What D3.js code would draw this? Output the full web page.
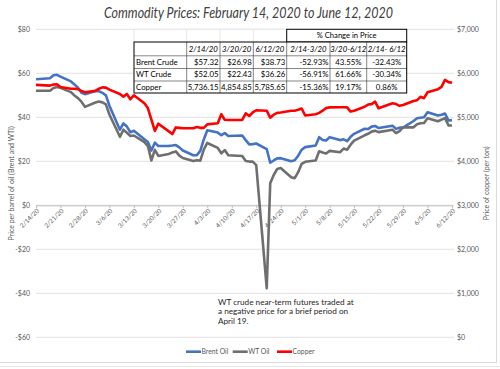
<!DOCTYPE html>
<html><head><meta charset="utf-8">
<script src="https://cdn.jsdelivr.net/npm/d3@7"></script>
<style>body{margin:0;background:#fff}svg{display:block}text{font-family:Lato,"Open Sans",sans-serif}</style>
</head><body><svg id="c" width="500" height="369"></svg>
<script>
const dates = [
 "2020-02-14","2020-02-18","2020-02-19","2020-02-20","2020-02-21","2020-02-24","2020-02-25","2020-02-26","2020-02-27","2020-02-28",
 "2020-03-02","2020-03-03","2020-03-04","2020-03-05","2020-03-06","2020-03-09","2020-03-10","2020-03-11","2020-03-12","2020-03-13","2020-03-16","2020-03-17","2020-03-18","2020-03-19","2020-03-20","2020-03-23","2020-03-24","2020-03-25","2020-03-26","2020-03-27","2020-03-30","2020-03-31",
 "2020-04-01","2020-04-02","2020-04-03","2020-04-06","2020-04-07","2020-04-08","2020-04-09","2020-04-13","2020-04-14","2020-04-15","2020-04-16","2020-04-17","2020-04-20","2020-04-21","2020-04-22","2020-04-23","2020-04-24","2020-04-27","2020-04-28","2020-04-29","2020-04-30",
 "2020-05-01","2020-05-04","2020-05-05","2020-05-06","2020-05-07","2020-05-08","2020-05-11","2020-05-12","2020-05-13","2020-05-14","2020-05-15","2020-05-18","2020-05-19","2020-05-20","2020-05-21","2020-05-22","2020-05-26","2020-05-27","2020-05-28","2020-05-29",
 "2020-06-01","2020-06-02","2020-06-03","2020-06-04","2020-06-05","2020-06-08","2020-06-09","2020-06-10","2020-06-11","2020-06-12"];
const brent = [
 57.32,57.75,59.12,59.31,58.50,56.30,54.95,53.43,51.17,50.52,
 51.90,51.86,51.13,49.99,45.27,34.36,37.22,35.79,33.22,33.85,30.05,28.73,24.88,28.47,26.98,27.03,27.15,27.39,26.34,24.93,22.76,22.74,
 24.74,29.94,34.11,33.05,31.87,32.84,31.48,31.74,29.60,27.69,27.82,28.08,25.57,19.33,20.37,21.33,21.44,19.99,20.46,22.54,25.27,
 26.44,27.20,30.97,29.72,29.46,30.97,29.63,29.98,29.19,31.13,32.50,34.81,34.65,35.75,36.06,35.13,36.17,34.74,35.29,35.33,
 38.32,39.57,39.79,39.99,42.30,40.80,41.18,41.73,38.55,38.73];
const wti = [
 52.05,52.05,53.29,53.78,53.38,51.43,49.90,48.73,47.09,44.76,
 46.75,47.18,46.78,45.90,41.28,31.13,34.36,32.98,31.50,31.73,28.70,26.95,20.37,25.22,22.43,23.36,24.01,24.49,22.60,21.51,20.09,20.48,
 20.31,25.32,28.34,26.08,23.63,25.09,22.76,22.41,20.11,19.87,19.87,18.27,-37.63,10.01,13.78,16.50,16.94,12.78,12.34,15.06,18.84,
 19.78,20.39,24.56,23.99,23.55,24.74,24.14,25.78,25.29,27.56,29.43,31.82,32.50,33.49,33.92,33.25,34.35,32.81,33.71,35.49,
 35.44,36.81,37.29,37.41,39.55,38.19,38.94,39.60,36.34,36.26];
const copper = [
 5736.15,5720,5745,5750,5690,5650,5650,5640,5600,5570,
 5600,5650,5680,5675,5630,5530,5470,5530,5410,5500,5320,5210,4950,4690,4854.85,4680,4620,4770,4760,4750,4750,4780,
 4760,4760,4840,4865,5070,4945,4940,4940,5090,5030,5110,5160,5150,4990,5060,5100,5110,5150,5150,5170,5200,
 5040,5070,5100,5150,5210,5225,5227,5227,5225,5130,5150,5240,5290,5300,5355,5205,5320,5300,5260,5280,
 5370,5390,5465,5435,5570,5640,5690,5850,5800,5785.65];
const xTickLabels = ["2/14/20","2/21/20","2/28/20","3/6/20","3/13/20","3/20/20","3/27/20","4/3/20","4/10/20","4/17/20","4/24/20","5/1/20","5/8/20","5/15/20","5/22/20","5/29/20","6/5/20","6/12/20"];
const leftTicks = [80,60,40,20,0,-20,-40,-60];
const rightTicks = [7000,6000,5000,4000,3000,2000,1000,0];
const seriesNames = ["Brent Oil","WT Oil","Copper"];
const seriesColors = ["#4472C4","#6f6f6f","#FF0000"];
const tableHeader = "% Change in Price";
const tableCols = ["2/14/20","3/20/20","6/12/20","2/14-3/20","3/20-6/12","2/14- 6/12"];
const tableRows = ["Brent Crude","WT Crude","Copper"];
const tableCells = [
 ["$57.32","$26.98","$38.73","-52.93%","43.55%","-32.43%"],
 ["$52.05","$22.43","$36.26","-56.91%","61.66%","-30.34%"],
 ["5,736.15","4,854.85","5,785.65","-15.36%","19.17%","0.86%"]];
const titleText = "Commodity Prices: February 14, 2020 to June 12, 2020";
const leftTitle = "Price per barrel of oil (Brent and WTI)";
const rightTitle = "Price of copper (per ton)";
const noteLines = ["WT crude near-term futures traded at","a negative price for a brief period on","April 19."];

const parse = d3.timeParse("%Y-%m-%d");
const tickParse = d3.timeParse("%m/%d/%y");
const svg = d3.select("#c");
const L = 36, R = 452, T = 29.3, B = 337.3;
const x = d3.scaleTime().domain([parse(dates[0]), parse(dates[dates.length-1])]).range([L, R]);
const yL = d3.scaleLinear().domain([-60, 80]).range([B, T]);
const yR = d3.scaleLinear().domain([0, 7000]).range([B, T]);

// frame
svg.append("line").attr("x1",0).attr("x2",497).attr("y1",362.5).attr("y2",362.5).attr("stroke","#d9d9d9");
svg.append("line").attr("x1",496.5).attr("x2",496.5).attr("y1",0).attr("y2",362.5).attr("stroke","#d9d9d9");
svg.append("line").attr("x1",0).attr("x2",500).attr("y1",366.5).attr("y2",366.5).attr("stroke","#e6e6e6");

// gridlines
svg.append("g").selectAll("line").data(leftTicks).join("line")
  .attr("x1", L).attr("x2", 454).attr("y1", d => yL(d)).attr("y2", d => yL(d))
  .attr("stroke", "#d9d9d9").attr("stroke-width", 0.8);

// left axis labels
svg.append("g").selectAll("text").data(leftTicks).join("text")
  .attr("x", 30).attr("y", d => yL(d)).attr("dy","0.35em").attr("text-anchor","end")
  .attr("font-size", 7).attr("fill", "#595959")
  .text(d => (d < 0 ? "-$" : "$") + Math.abs(d));
// right axis labels
svg.append("g").selectAll("text").data(rightTicks).join("text")
  .attr("x", 457).attr("y", d => yR(d)).attr("dy","0.35em").attr("text-anchor","start")
  .attr("font-size", 7).attr("fill", "#595959")
  .text(d => "$" + d3.format(",")(d));

// axis titles
svg.append("text").attr("transform", `translate(14,${(T+B)/2}) rotate(-90)`)
  .attr("text-anchor","middle").attr("font-size",7).attr("fill","#595959").text(leftTitle);
svg.append("text").attr("transform", `translate(489,${(T+B)/2}) rotate(-90)`)
  .attr("text-anchor","middle").attr("font-size",7).attr("fill","#595959").text(rightTitle);

// x axis at 0
const xAxis = d3.axisBottom(x).tickValues(xTickLabels.map(tickParse)).tickSize(3).tickFormat((d,i) => xTickLabels[i]);
const gx = svg.append("g").attr("transform", `translate(0,${yL(0)})`).call(xAxis);
gx.select(".domain").attr("stroke","#bfbfbf");
gx.selectAll(".tick line").attr("stroke","#bfbfbf");
gx.selectAll(".tick text").attr("font-size",6.3).attr("fill","#595959").attr("font-family","Lato")
  .attr("text-anchor","end").attr("dy",0).attr("y",0)
  .attr("transform","translate(3,6) rotate(-45)");

// lines
const lineL = d3.line().x((d,i) => x(parse(dates[i]))).y(d => yL(d));
const lineR = d3.line().x((d,i) => x(parse(dates[i]))).y(d => yR(d));
svg.append("path").datum(brent).attr("d", lineL).attr("fill","none").attr("stroke",seriesColors[0]).attr("stroke-width",2.6).attr("stroke-linejoin","round");
svg.append("path").datum(wti).attr("d", lineL).attr("fill","none").attr("stroke",seriesColors[1]).attr("stroke-width",2.6).attr("stroke-linejoin","round");
svg.append("path").datum(copper).attr("d", lineR).attr("fill","none").attr("stroke",seriesColors[2]).attr("stroke-width",2.6).attr("stroke-linejoin","round");

// table
const colX = [134, 186.7, 220, 253.3, 286.7, 330, 366.7, 406.7];
const rowY = [29.3, 42, 55.8, 68.5, 81, 93];
const tg = svg.append("g");
tg.append("rect").attr("x",colX[0]).attr("y",rowY[0]).attr("width",colX[4]-colX[0]).attr("height",rowY[1]-rowY[0]).attr("fill","#fff");
for (let c = 0; c <= 4; c++) tg.append("line").attr("x1",colX[c]).attr("x2",colX[c]).attr("y1",rowY[0]).attr("y2",rowY[1]).attr("stroke","#d9d9d9").attr("stroke-width",0.6);
tg.append("line").attr("x1",colX[0]).attr("x2",colX[4]).attr("y1",rowY[0]).attr("y2",rowY[0]).attr("stroke","#d9d9d9").attr("stroke-width",0.6);
tg.append("rect").attr("x",colX[4]).attr("y",rowY[0]).attr("width",colX[7]-colX[4]).attr("height",rowY[1]-rowY[0]).attr("fill","#fff").attr("stroke","#000").attr("stroke-width",1);
tg.append("text").attr("x",(colX[4]+colX[7])/2).attr("y",(rowY[0]+rowY[1])/2).attr("dy","0.35em").attr("text-anchor","middle").attr("font-size",7.6).attr("fill","#000").text(tableHeader);
tg.append("rect").attr("x",colX[0]).attr("y",rowY[1]).attr("width",colX[7]-colX[0]).attr("height",rowY[5]-rowY[1]).attr("fill","#fff");
for (let r = 2; r <= 4; r++) tg.append("line").attr("x1",colX[0]).attr("x2",colX[7]).attr("y1",rowY[r]).attr("y2",rowY[r]).attr("stroke","#333").attr("stroke-width",0.6);
for (let c = 1; c <= 6; c++) tg.append("line").attr("x1",colX[c]).attr("x2",colX[c]).attr("y1",rowY[1]).attr("y2",rowY[5]).attr("stroke","#333").attr("stroke-width",0.6);
tg.append("rect").attr("x",colX[0]).attr("y",rowY[1]).attr("width",colX[7]-colX[0]).attr("height",rowY[5]-rowY[1]).attr("fill","none").attr("stroke","#000").attr("stroke-width",1);
tableCols.forEach((t, c) => {
  tg.append("text").attr("x",(colX[c+1]+colX[c+2])/2).attr("y",(rowY[1]+rowY[2])/2).attr("dy","0.35em")
    .attr("text-anchor","middle").attr("font-size",7.8).attr("font-style","italic").attr("fill","#000").text(t);
});
const align = ["end","end","end","end","middle","middle"];
tableRows.forEach((rn, r) => {
  const cy = (rowY[r+2]+rowY[r+3])/2;
  tg.append("text").attr("x",colX[0]+2).attr("y",cy).attr("dy","0.35em").attr("font-size",7.8).attr("fill","#000").text(rn);
  tableCells[r].forEach((v, c) => {
    const a = align[c];
    const xx = a === "end" ? colX[c+2]-1.5 : (colX[c+1]+colX[c+2])/2;
    tg.append("text").attr("x",xx).attr("y",cy).attr("dy","0.35em").attr("text-anchor",a).attr("font-size",7.8).attr("fill","#000").text(v);
  });
});

// title
svg.append("text").attr("x",248.5).attr("y",18).attr("text-anchor","middle").attr("font-size",14.5)
  .attr("font-style","italic").attr("fill","#404040")
  .attr("textLength",289).attr("lengthAdjust","spacingAndGlyphs").text(titleText);

// annotation
svg.append("g").selectAll("text").data(noteLines).join("text")
  .attr("x",218).attr("y",(d,i) => 305 + i*9.4).attr("font-size",8.2).attr("fill","#262626").text(d => d);

// legend
const lg = svg.append("g");
const legX = [186, 232.7, 277];
seriesNames.forEach((n, i) => {
  lg.append("line").attr("x1",legX[i]).attr("x2",legX[i]+15).attr("y1",351.7).attr("y2",351.7).attr("stroke",seriesColors[i]).attr("stroke-width",2.6);
  lg.append("text").attr("x",legX[i]+15.5).attr("y",351.7).attr("dy","0.35em").attr("font-size",6.8).attr("fill","#595959").text(n);
});
</script></body></html>
